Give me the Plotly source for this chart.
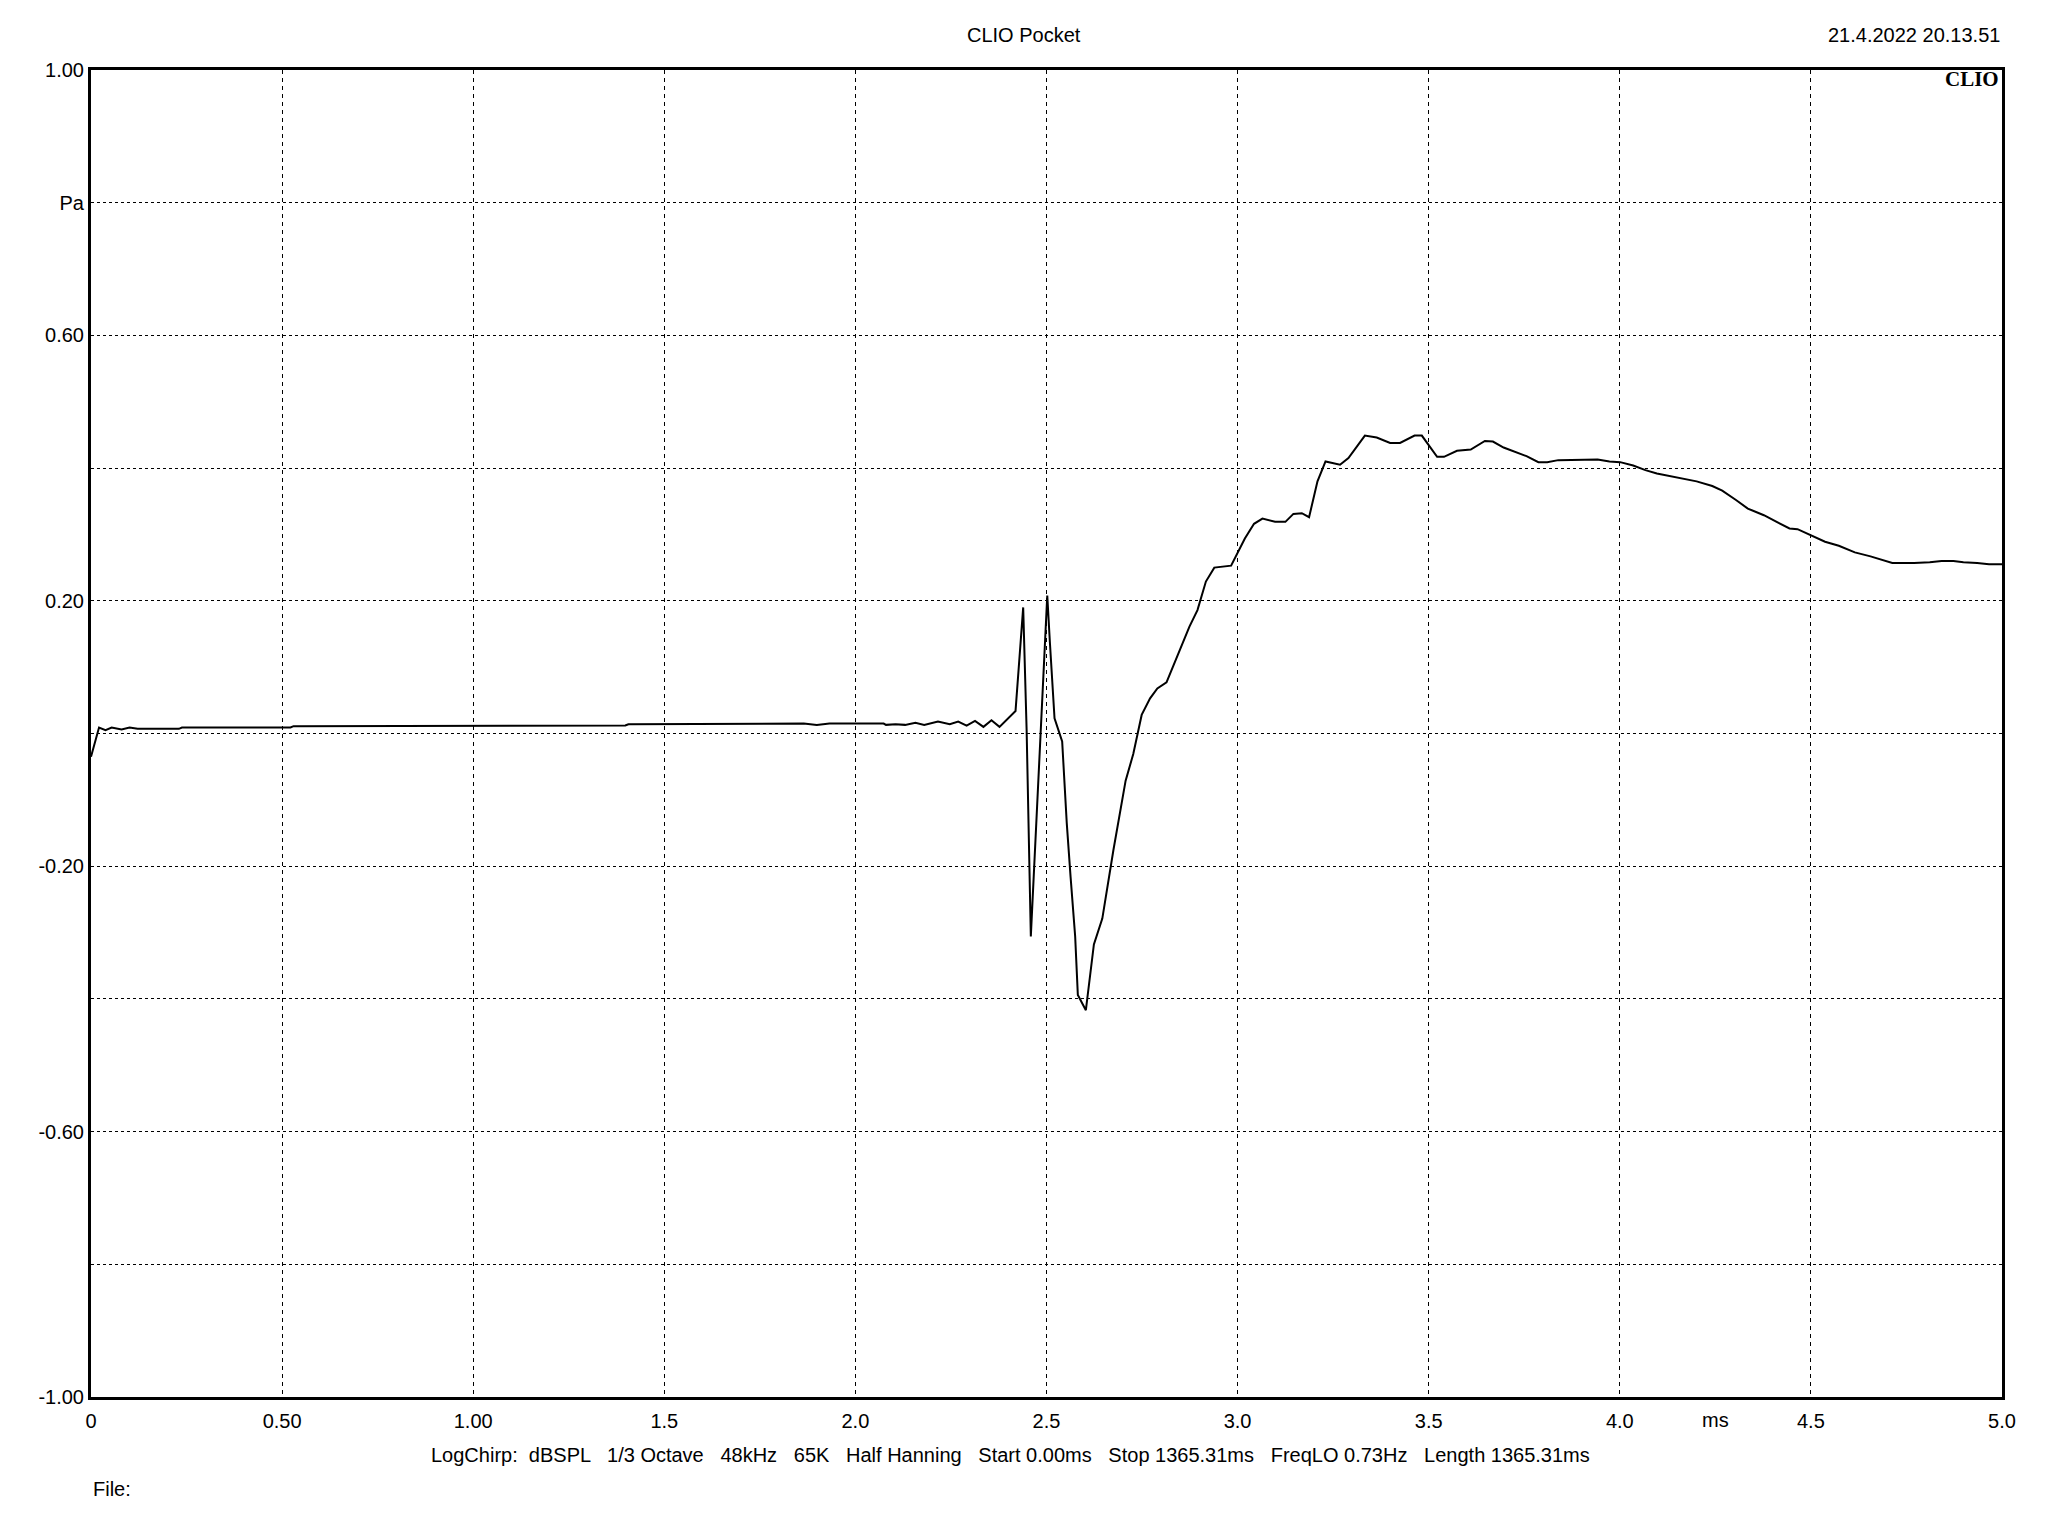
import plotly.graph_objects as go

# time in ms
time_ms = [0.0, 0.021, 0.038, 0.054, 0.080, 0.101, 0.122, 0.230, 0.238, 0.522, 0.530,
           0.936, 0.944, 1.398, 1.406, 1.857, 1.865, 1.899, 1.932, 2.074, 2.080, 2.105,
           2.130, 2.157, 2.180, 2.216, 2.247, 2.269, 2.291, 2.313, 2.335, 2.356, 2.377,
           2.419, 2.439, 2.448, 2.453, 2.456, 2.459, 2.464, 2.479, 2.487, 2.496, 2.502,
           2.509, 2.521, 2.541, 2.553, 2.563, 2.575, 2.582, 2.603, 2.624, 2.646, 2.675,
           2.707, 2.727, 2.749, 2.771, 2.790, 2.814, 2.849, 2.874, 2.895, 2.917, 2.939,
           2.983, 3.019, 3.043, 3.065, 3.098, 3.125, 3.146, 3.168, 3.187, 3.209, 3.230,
           3.268, 3.290, 3.333, 3.364, 3.399, 3.425, 3.463, 3.482, 3.522, 3.540, 3.574,
           3.610, 3.647, 3.668, 3.696, 3.725, 3.756, 3.787, 3.810, 3.839, 3.875, 3.911,
           3.942, 3.973, 4.001, 4.035, 4.067, 4.097, 4.149, 4.201, 4.242, 4.268, 4.304,
           4.335, 4.377, 4.413, 4.444, 4.465, 4.501, 4.537, 4.573, 4.615, 4.656, 4.713,
           4.770, 4.811, 4.842, 4.873, 4.899, 4.935, 4.966, 5.0]
# pressure in Pa
pressure_pa = [-0.035, 0.009, 0.005, 0.009, 0.006, 0.009, 0.007, 0.007, 0.009, 0.009, 0.011,
               0.011, 0.012, 0.012, 0.014, 0.014, 0.015, 0.013, 0.015, 0.015, 0.013, 0.014,
               0.013, 0.016, 0.013, 0.018, 0.014, 0.018, 0.012, 0.019, 0.010, 0.020, 0.010,
               0.034, 0.190, 0.005, -0.120, -0.183, -0.306, -0.246, -0.065, 0.035, 0.141, 0.208,
               0.136, 0.023, -0.012, -0.135, -0.216, -0.306, -0.394, -0.417, -0.318, -0.279, -0.176,
               -0.071, -0.031, 0.028, 0.053, 0.068, 0.077, 0.126, 0.161, 0.186, 0.229, 0.250,
               0.253, 0.294, 0.316, 0.324, 0.319, 0.319, 0.331, 0.332, 0.326, 0.380, 0.410,
               0.405, 0.415, 0.449, 0.446, 0.438, 0.438, 0.449, 0.449, 0.417, 0.417, 0.426,
               0.428, 0.441, 0.440, 0.431, 0.425, 0.418, 0.409, 0.409, 0.412, 0.412, 0.412,
               0.413, 0.410, 0.409, 0.404, 0.397, 0.392, 0.386, 0.380, 0.373, 0.366, 0.352,
               0.339, 0.329, 0.318, 0.309, 0.308, 0.298, 0.289, 0.283, 0.273, 0.267, 0.257,
               0.257, 0.258, 0.260, 0.260, 0.258, 0.257, 0.255, 0.255]

x_tickvals = [0, 0.5, 1.0, 1.5, 2.0, 2.5, 3.0, 3.5, 4.0, 4.5, 5.0]
x_ticktext = ["0", "0.50", "1.00", "1.5", "2.0", "2.5", "3.0", "3.5", "4.0", "4.5", "5.0"]
y_tickvals = [-1.0, -0.8, -0.6, -0.4, -0.2, 0.0, 0.2, 0.4, 0.6, 0.8, 1.0]
y_ticktext = ["-1.00", "", "-0.60", "", "-0.20", "", "0.20", "", "0.60", "Pa", "1.00"]

title_text = "CLIO Pocket"
date_text = "21.4.2022 20.13.51"
brand_text = "CLIO"
info_text = ("LogChirp:  dBSPL   1/3 Octave   48kHz   65K   Half Hanning   Start 0.00ms   "
             "Stop 1365.31ms   FreqLO 0.73Hz   Length 1365.31ms")
file_text = "File:"
x_unit = "ms"

FONT = "Liberation Sans, Arial, sans-serif"
FS = 20

fig = go.Figure()
fig.add_trace(go.Scatter(x=time_ms, y=pressure_pa, mode="lines",
                         line=dict(color="black", width=2), showlegend=False,
                         hoverinfo="skip"))

fig.update_layout(
    width=2032, height=1520,
    margin=dict(l=83, r=38, t=62, b=131),
    paper_bgcolor="white", plot_bgcolor="white",
    font=dict(family=FONT, size=FS, color="black"),
    xaxis=dict(range=[0, 5.0], tickvals=x_tickvals, ticktext=x_ticktext,
               showgrid=True, gridcolor="black", gridwidth=1, griddash="4px,4px",
               zeroline=False, showline=True, linecolor="black", linewidth=3,
               mirror=True, ticks="", ticklabelstandoff=4,
               tickfont=dict(family=FONT, size=FS, color="black")),
    yaxis=dict(range=[-1.0, 1.0], tickvals=y_tickvals, ticktext=y_ticktext,
               showgrid=True, gridcolor="black", gridwidth=1, griddash="3px,3px",
               zeroline=False, showline=True, linecolor="black", linewidth=3,
               mirror=True, ticks="", ticklabelstandoff=0,
               tickfont=dict(family=FONT, size=FS, color="black")),
)

fig.add_annotation(text=title_text, xref="paper", yref="paper", x=0.488, y=1.0,
                   yshift=35, xanchor="center", yanchor="middle", showarrow=False,
                   font=dict(family=FONT, size=FS))
fig.add_annotation(text=date_text, xref="paper", yref="paper", x=1.0, y=1.0,
                   yshift=35, xanchor="right", yanchor="middle", showarrow=False,
                   font=dict(family=FONT, size=FS))
fig.add_annotation(text="<b>" + brand_text + "</b>", xref="paper", yref="paper", x=1.0, y=1.0,
                   xshift=-1, yshift=-9, xanchor="right", yanchor="middle", showarrow=False,
                   font=dict(family="Liberation Serif, Times New Roman, serif", size=21))
fig.add_annotation(text=x_unit, x=4.25, xref="x", yref="paper", y=0.0, yshift=-23,
                   xanchor="center", yanchor="middle", showarrow=False,
                   font=dict(family=FONT, size=FS))
fig.add_annotation(text=info_text, xref="paper", yref="paper", x=0.4814, y=0.0,
                   yshift=-58, xanchor="center", yanchor="middle", showarrow=False,
                   font=dict(family=FONT, size=FS))
fig.add_annotation(text=file_text, xref="paper", yref="paper", x=0.0, y=0.0,
                   yshift=-92, xanchor="left", yanchor="middle", showarrow=False,
                   font=dict(family=FONT, size=FS))

fig.write_html("out.html")
